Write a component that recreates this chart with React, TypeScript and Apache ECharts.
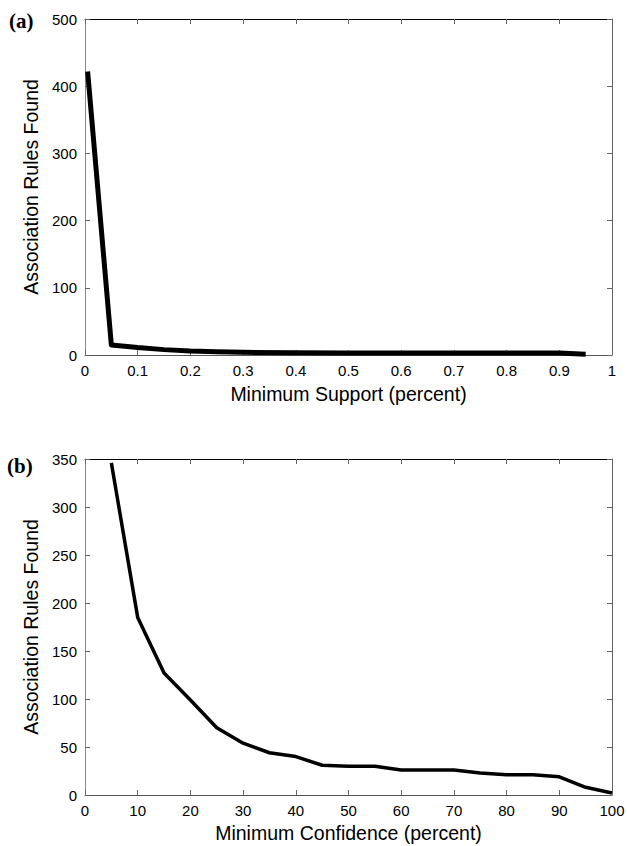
import React, { useEffect, useRef } from "react";
import * as echarts from "echarts";

// Panel (a): Minimum Support (percent) vs rules found
const supportX = [0.005, 0.05, 0.1, 0.15, 0.2, 0.25, 0.3, 0.4, 0.5, 0.6, 0.7, 0.8, 0.9, 0.95];
const supportY = [422, 15, 11, 8, 6, 5, 4, 3.5, 3, 3, 3, 3, 3, 1];

// Panel (b): Minimum Confidence (percent) vs rules found
const confidenceX = [5, 10, 15, 20, 25, 30, 35, 40, 45, 50, 55, 60, 65, 70, 75, 80, 85, 90, 95, 100];
const confidenceY = [346, 185, 127, 99, 70, 54, 44, 40, 31, 30, 30, 26, 26, 26, 23, 21, 21, 19, 8, 2];

const yTitle = "Association Rules Found";
const xTitleA = "Minimum Support (percent)";
const xTitleB = "Minimum Confidence (percent)";

const FONT = "Liberation Sans, Arial, Helvetica, sans-serif";

function pair(xs: number[], ys: number[]) {
  return xs.map((x, i) => [x, ys[i]]);
}

export default function App() {
  const ref = useRef<HTMLDivElement>(null);
  useEffect(() => {
    if (!ref.current) return;
    const chart = echarts.init(ref.current, null, { renderer: "svg" });

    const tickCommon = { show: true, inside: true, length: 5, lineStyle: { color: "#666", width: 1 } };
    const labelCommon = { color: "#000", fontSize: 15, fontFamily: FONT };

    const bottomX = (grid: number, min: number, max: number, interval: number, name: string, gap: number) => ({
      type: "value",
      gridIndex: grid,
      position: "bottom",
      min,
      max,
      interval,
      name,
      nameLocation: "middle",
      nameGap: gap,
      nameTextStyle: { color: "#000", fontSize: 19.5, fontFamily: FONT },
      axisLine: { show: true, onZero: false, lineStyle: { color: "#555", width: 1 } },
      axisTick: tickCommon,
      axisLabel: { ...labelCommon, margin: 8 },
      splitLine: { show: false },
    });
    const topX = (grid: number, min: number, max: number, interval: number) => ({
      type: "value",
      gridIndex: grid,
      position: "top",
      min,
      max,
      interval,
      axisLine: { show: true, onZero: false, lineStyle: { color: "#000", width: 1 } },
      axisTick: tickCommon,
      axisLabel: { show: false },
      splitLine: { show: false },
    });
    const leftY = (grid: number, min: number, max: number, interval: number) => ({
      type: "value",
      gridIndex: grid,
      position: "left",
      min,
      max,
      interval,
      name: yTitle,
      nameLocation: "middle",
      nameGap: 40,
      nameTextStyle: { color: "#000", fontSize: 19.5, fontFamily: FONT },
      axisLine: { show: true, onZero: false, lineStyle: { color: "#888", width: 1 } },
      axisTick: tickCommon,
      axisLabel: { ...labelCommon, margin: 8 },
      splitLine: { show: false },
    });
    const rightY = (grid: number, min: number, max: number, interval: number) => ({
      type: "value",
      gridIndex: grid,
      position: "right",
      min,
      max,
      interval,
      axisLine: { show: true, onZero: false, lineStyle: { color: "#666", width: 1 } },
      axisTick: tickCommon,
      axisLabel: { show: false },
      splitLine: { show: false },
    });

    chart.setOption({
      animation: false,
      backgroundColor: "#fff",
      grid: [
        { left: 85, top: 19, width: 527, height: 336, outerBoundsMode: "none", containLabel: false },
        { left: 85, top: 459, width: 527, height: 336, outerBoundsMode: "none", containLabel: false },
      ],
      xAxis: [
        bottomX(0, 0, 1, 0.1, xTitleA, 29),
        topX(0, 0, 1, 0.1),
        bottomX(1, 0, 100, 10, xTitleB, 28),
        topX(1, 0, 100, 10),
      ],
      yAxis: [
        leftY(0, 0, 500, 100),
        rightY(0, 0, 500, 100),
        leftY(1, 0, 350, 50),
        rightY(1, 0, 350, 50),
      ],
      series: [
        {
          type: "line",
          xAxisIndex: 0,
          yAxisIndex: 0,
          data: pair(supportX, supportY),
          showSymbol: false,
          symbol: "none",
          lineStyle: { color: "#000", width: 5, join: "round" },
        },
        {
          type: "line",
          xAxisIndex: 2,
          yAxisIndex: 2,
          data: pair(confidenceX, confidenceY),
          showSymbol: false,
          symbol: "none",
          lineStyle: { color: "#000", width: 3.5, join: "round" },
        },
      ],
      graphic: [
        {
          type: "text",
          left: 9,
          top: 10,
          style: { text: "(a)", fill: "#000", font: "bold 21px 'Liberation Serif', 'Times New Roman', serif" },
        },
        {
          type: "text",
          left: 7,
          top: 455,
          style: { text: "(b)", fill: "#000", font: "bold 21px 'Liberation Serif', 'Times New Roman', serif" },
        },
      ],
    });
    return () => chart.dispose();
  }, []);
  return (
    <div
      ref={ref}
      style={{ position: "absolute", left: 0, top: 0, width: 627, height: 846, background: "#fff" }}
    />
  );
}
